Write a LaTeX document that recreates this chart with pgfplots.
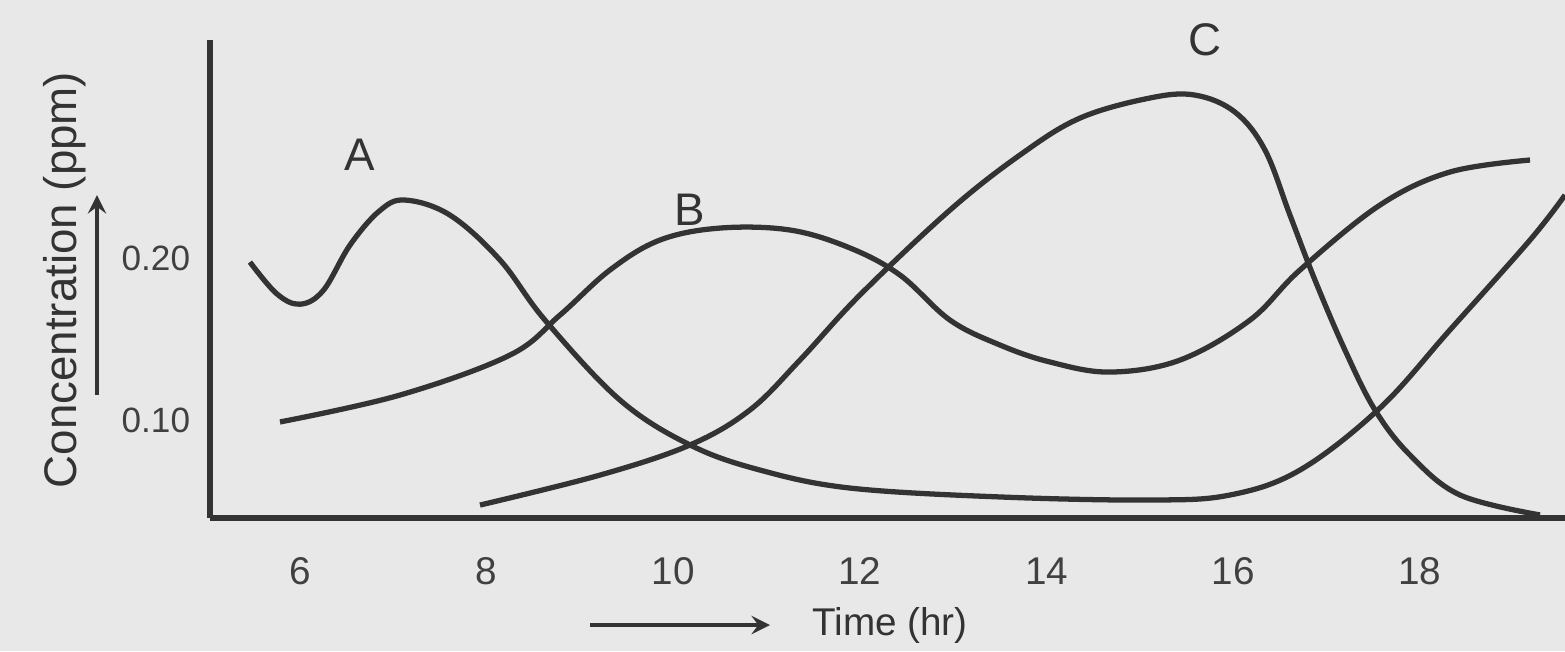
\documentclass[border=0pt]{standalone}
\usepackage{pgfplots}
\pgfplotsset{compat=1.18}
\usepackage{fontspec}
\setmainfont{Liberation Sans}
\begin{document}
\begin{tikzpicture}[x=1cm,y=1cm]
\fill[black!9] (0,0) rectangle (15.65,6.51);
\useasboundingbox (0,0) rectangle (15.65,6.51);
\begin{axis}[at={(2.1cm,1.33cm)}, anchor=south west, scale only axis,
  width=13.55cm, height=4.78cm,
  xmin=5.036, xmax=19.554, ymin=0.0395, ymax=0.3346,
  axis x line=bottom, axis y line=left,
  axis line style={-, line width=1.6pt, black!80},
  xtick={6,8,10,12,14,16,18},
  ytick={0.10,0.20}, yticklabels={0.10,0.20},
  tick style={draw=none},
  xticklabel style={font=\fontsize{11}{13}\selectfont, yshift=-0.2cm, text=black!75},
  yticklabel style={font=\fontsize{10}{12}\selectfont, text=black!75},
  /pgf/number format/assume math mode=true,
  clip=false]
\addplot[smooth, tension=0.6, line width=1.5pt, black!80] coordinates {
(5.464,0.1975) (5.75,0.178) (6.0,0.1715) (6.25,0.180) (6.536,0.208) (6.85,0.229) (7.125,0.2358) (7.607,0.2265)
(8.143,0.1988) (8.625,0.1617) (9.429,0.1123) (10.179,0.0846) (10.929,0.0691)
(11.893,0.058) (13.5,0.0525) (15.107,0.0506) (15.964,0.0537) (16.714,0.0691)
(17.571,0.1074) (18.321,0.1556) (19.179,0.2111) (19.554,0.2389)};
\addplot[smooth, tension=0.6, line width=1.5pt, black!80] coordinates {
(5.786,0.0988) (7.071,0.1154) (8.25,0.1401) (8.786,0.1648) (9.321,0.1926)
(9.857,0.2111) (10.5,0.2185) (11.25,0.2173) (11.893,0.2062) (12.429,0.1895)
(12.964,0.1617) (13.5,0.1463) (14.036,0.1358) (14.679,0.1296) (15.429,0.137)
(16.179,0.1617) (16.714,0.1926) (17.571,0.2327) (18.321,0.2531) (19.179,0.2605)};
\addplot[smooth, tension=0.6, line width=1.5pt, black!80] coordinates {
(7.929,0.0475) (9.214,0.066) (10.179,0.0846) (10.821,0.1062) (11.357,0.137)
(12.0,0.1772) (12.964,0.2296) (13.714,0.2636) (14.357,0.2864) (15.107,0.2988)
(15.589,0.3006) (16.018,0.2901) (16.339,0.2667) (16.607,0.2265) (16.875,0.1864)
(17.196,0.1432) (17.518,0.1062) (17.893,0.0784) (18.429,0.0537) (19.286,0.0414)};
\node[font=\fontsize{13}{15}\selectfont, text=black!80] at (axis cs:6.643,0.2636) {A};
\node[font=\fontsize{13}{15}\selectfont, text=black!80] at (axis cs:10.179,0.2296) {B};
\node[font=\fontsize{13}{15}\selectfont, text=black!80] at (axis cs:15.696,0.3346) {C};
\end{axis}
\node[rotate=90, font=\fontsize{13}{15}\selectfont, text=black!80] at (0.65,3.71) {Concentration (ppm)};
\draw[-stealth, line width=1.3pt, black!80] (0.97,2.56) -- (0.97,4.56);
\draw[-stealth, line width=1.3pt, black!80] (5.9,0.26) -- (7.7,0.26);
\node[anchor=west, font=\fontsize{11}{13}\selectfont, text=black!80] at (8.0,0.26) {Time (hr)};
\end{tikzpicture}
\end{document}
